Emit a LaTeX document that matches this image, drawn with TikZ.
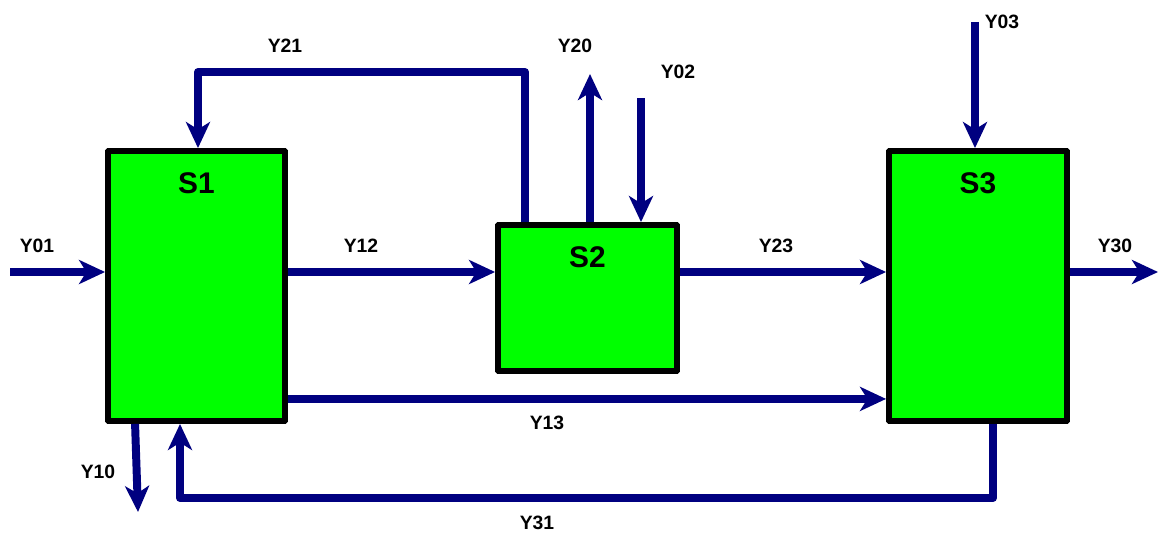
\documentclass[tikz,border=0pt]{standalone}
\usepackage{fontspec}
\setmainfont{Liberation Sans}
\usepackage{tikz}
\usetikzlibrary{arrows.meta, positioning}
\definecolor{flowblue}{RGB}{0,0,128}
\definecolor{boxgreen}{RGB}{0,255,0}

\begin{document}
\begin{tikzpicture}[
    x=0.03cm, y=-0.03cm,
    block/.style={draw=black, fill=boxgreen, line width=5pt, rounded corners=0.5pt,
        inner sep=0pt},
    blocktitle/.style={anchor=north, yshift=-0.6cm, font=\fontsize{25.5}{30}\selectfont\bfseries},
    flow/.style={-{Stealth[length=0.78cm, width=0.72cm, inset=0.22cm]},
        draw=flowblue, line width=6.8pt, line join=round},
    tag/.style={font=\fontsize{16.5}{19}\selectfont\bfseries, inner sep=0pt}
]
\useasboundingbox (0,0) rectangle (1158,534);

% Three subsystems
\node[block, minimum width=5.31cm, minimum height=8.1cm,
    label={[blocktitle]north:S1}] (S1) at (196.5,286) {};
\node[block, minimum width=5.37cm, minimum height=4.38cm,
    label={[blocktitle]north:S2}] (S2) at (587.5,298) {};
\node[block, minimum width=5.34cm, minimum height=8.1cm,
    label={[blocktitle]north:S3}] (S3) at (978,286) {};

% Free ends
\coordinate (y01) at (10,272);
\coordinate (y30) at (1158,272);
\coordinate (y21) at (198,72);
\coordinate (y20) at (590,74);
\coordinate (y02) at (641,98);
\coordinate (y03) at (975,22);
\coordinate (y31) at (180,498);
\coordinate (y10) at (138,512);

% Main line
\draw[flow] (y01) -- (y01 -| S1.west);
\draw[flow] (y01 -| S1.east) -- (y01 -| S2.west);
\draw[flow] (y01 -| S2.east) -- (y01 -| S3.west);
\draw[flow] (y01 -| S3.east) -- (y30);
% Bypass and feedback
\draw[flow] ([yshift=0.75cm]S1.south east) -- ([yshift=0.75cm]S3.south west);
\draw[flow] ([xshift=3.21cm]S3.south west) |- (y31) -- (y31 |- S1.south);
\draw[flow] ([xshift=0.9cm]S2.north west) |- (y21) -- (y21 |- S1.north);
% Inputs and outputs
\draw[flow] (y20 |- S2.north) -- (y20);
\draw[flow] (y02) -- (y02 |- S2.north);
\draw[flow] (y03) -- (y03 |- S3.north);
\draw[flow] ([xshift=0.9cm]S1.south west) -- (y10);

% Labels
\node[tag] (t01) at (37,246) {Y01};
\node[tag] (t12) at (361,246) {Y12};
\node[tag] (t23) at (776,246) {Y23};
\node[tag] (t30) at (1115,246) {Y30};
\node[tag] (t13) at (547,423) {Y13};
\node[tag] (t31) at (537,523) {Y31};
\node[tag] (t10) at (98,472) {Y10};
\node[tag] (t21) at (285,46) {Y21};
\node[tag] (t20) at (575,46) {Y20};
\node[tag] (t02) at (678,72) {Y02};
\node[tag] (t03) at (1002,22) {Y03};

\end{tikzpicture}
\end{document}
